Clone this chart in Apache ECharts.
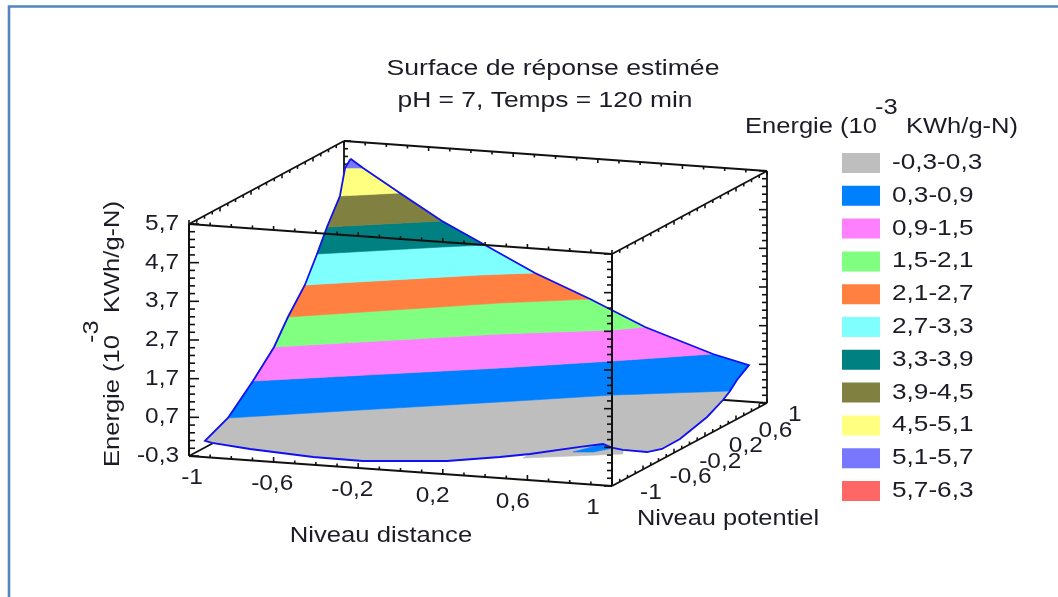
<!DOCTYPE html>
<html><head><meta charset="utf-8">
<style>html,body{margin:0;padding:0;background:#fff}#c{width:1058px;height:597px}</style>
<script src="https://cdn.jsdelivr.net/npm/echarts@6/dist/echarts.min.js"></script>
</head><body><div id="c"></div>
<script>
// ---- axis ticks and labels ----
const distanceTicks = [-1, -0.6, -0.2, 0.2, 0.6, 1];
const distanceLabels = ['-1', '-0,6', '-0,2', '0,2', '0,6', '1'];
const potentialTicks = [-1, -0.6, -0.2, 0.2, 0.6, 1];
const potentialLabels = ['-1', '-0,6', '-0,2', '0,2', '0,6', '1'];
const energyTicks = [-0.3, 0.7, 1.7, 2.7, 3.7, 4.7, 5.7];
const energyLabels = ['-0,3', '0,7', '1,7', '2,7', '3,7', '4,7', '5,7'];

// ---- legend ----
const bandNames = ['-0,3-0,3', '0,3-0,9', '0,9-1,5', '1,5-2,1', '2,1-2,7', '2,7-3,3', '3,3-3,9', '3,9-4,5', '4,5-5,1', '5,1-5,7', '5,7-6,3'];
const bandColors = ['#BEBEBE', '#0080FF', '#FF80FF', '#80FF80', '#FF8040', '#80FFFF', '#008080', '#808040', '#FFFF80', '#7878FF', '#FF6666'];

// ---- iso-energy lines of the surface: [distance, potential] at each energy level ----
const contour03 = [[-0.953, -0.626], [-0.464, -0.257], [0.058, 0.125], [0.476, 0.444], [0.933, 0.706]];
const contour09 = [[-0.956, -0.295], [-0.026, 0.354], [0.391, 0.674], [0.754, 0.974]];
const contour15 = [[-0.952, -0.033], [-0.110, 0.584], [0.331, 0.840], [0.441, 0.952]];
const contour21 = [[-0.947, 0.132], [-0.171, 0.750], [0.174, 0.971]];
const contour27 = [[-0.945, 0.345], [-0.292, 0.822], [-0.078, 0.948]];
const contour33 = [[-0.955, 0.529], [-0.484, 0.869], [-0.324, 0.974]];
const contour39 = [[-0.943, 0.625], [-0.510, 0.927]];
const contour45 = [[-0.950, 0.811], [-0.723, 0.965]];
const contour51 = [[-0.966, 0.921], [-0.891, 0.948]];
// surface border: [distance, potential, energy]
const peakPoint = [-0.969, 1, 5.25];
const farCorner = [0.922, 0.98, 0.67];
const farEdge = [0.936, 0.787, 0.5];
const leftFoot = [[-1, -0.794, -0.13], [-1, -0.703, -0.28]];
// where the surface meets the floor, energy -0,3: [distance, potential]
const floorEdge = [[0.793, 0.997], [0.859, 0.612], [0.917, 0.103], [0.920, -0.137], [0.881, -0.224], [0.765, -0.217], [0.708, -0.190], [0.635, -0.120], [0.562, -0.218], [0.408, -0.443], [0.306, -0.552], [0.116, -0.717], [-0.235, -0.844], [-0.474, -0.834], [-0.800, -0.759]];
// parts of the underside seen below the border
const undersideGrey = [[0.410, -0.539], [0.796, -0.302], [0.765, -0.217], [0.708, -0.190], [0.635, -0.120], [0.562, -0.218], [0.408, -0.443]];
const undersideBlue = [[0.572, -0.335], [0.635, -0.120], [0.708, -0.190], [0.656, -0.305]];

// ---- view: how the 3D box sits on the hidden plane axes ----
const view = { ox: 189, oy: 456, xdx: 423, xdy: 30, pdx: 155, pdy: -83, ez: 38.67 };
const eMin = -0.3, eMax = 5.7;
function project(d, p, e) {
  const tx = (d + 1) / 2, tp = (p + 1) / 2;
  return [view.ox + view.xdx * tx + view.pdx * tp, view.oy + view.xdy * tx + view.pdy * tp - (e - eMin) * view.ez];
}
const at = (pts, e) => pts.map(q => [q[0], q[1], e]);
const rev = a => a.slice().reverse();
const L = [at(contour03, .3), at(contour09, .9), at(contour15, 1.5), at(contour21, 2.1), at(contour27, 2.7), at(contour33, 3.3), at(contour39, 3.9), at(contour45, 4.5), at(contour51, 5.1)];
const floor3d = at(floorEdge, eMin);
const bandPolys = [
  [...L[0], ...floor3d, ...rev(leftFoot)],
  [...L[1], farCorner, farEdge, ...rev(L[0])],
  [...L[2], ...rev(L[1])], [...L[3], ...rev(L[2])], [...L[4], ...rev(L[3])],
  [...L[5], ...rev(L[4])], [...L[6], ...rev(L[5])], [...L[7], ...rev(L[6])],
  [...L[8], ...rev(L[7])], [...L[8], peakPoint], []
];
const outline = [peakPoint, ...L.slice(1).map(l => l[l.length - 1]).reverse(), farCorner, farEdge, L[0][L[0].length - 1], ...floor3d, ...rev(leftFoot), ...L.map(l => l[0]), peakPoint];

const font = 'Liberation Sans, Arial, sans-serif';
const ink = '#1c1c28';
function txt(x, y, text, size, sx, align, rot) {
  return { type: 'text', x, y, scaleX: sx, rotation: rot || 0, silent: true,
    style: { text, fontFamily: font, fontSize: size, fill: ink, align: align || 'center', verticalAlign: 'middle' } };
}
const FS = 22, SX = 1.11;

// ---- box ----
function edge(a, b, lw) { return { type: 'line', shape: { x1: a[0], y1: a[1], x2: b[0], y2: b[1] }, style: { stroke: '#111', lineWidth: lw }, silent: true }; }
function tickRun(fn, from, to, step, major, dx, dy, lenMajor, lenMinor, out) {
  const n = Math.round((to - from) / step);
  for (let i = 0; i <= n; i++) {
    const v = from + i * step, q = fn(v);
    const big = major.some(m => Math.abs(m - v) < 1e-6);
    const len = big ? lenMajor : lenMinor;
    out.push(edge(q, [q[0] + dx * len, q[1] + dy * len], 1.6));
  }
}
function boxBack(conv) {
  const out = [];
  const c = (d, p, e) => conv(project(d, p, e));
  const E = (a, b) => edge(a, b, 1.8);
  out.push(E(c(-1, 1, eMin), c(-1, 1, eMax)), E(c(1, 1, eMin), c(1, 1, eMax)), E(c(-1, 1, eMin), c(1, 1, eMin)),
    E(c(-1, -1, eMin), c(-1, 1, eMin)), E(c(-1, 1, eMax), c(1, 1, eMax)), E(c(-1, -1, eMax), c(-1, 1, eMax)), E(c(1, -1, eMax), c(1, 1, eMax)), E(c(1, -1, eMin), c(1, 1, eMin)));
  tickRun(e => c(-1, 1, e), eMin, eMax, 0.2, energyTicks, 1, 0, 7, 4, out);
  tickRun(e => c(1, 1, e), eMin, eMax, 0.2, energyTicks, -1, 0, 8, 5, out);
  tickRun(d => c(d, 1, eMax), -1, 1, 0.1, distanceTicks, 0, 1, 4, 3, out);
  tickRun(p => c(-1, p, eMax), -1, 1, 0.1, potentialTicks, 0, 1, 4, 3, out);
  tickRun(p => c(1, p, eMax), -1, 1, 0.1, potentialTicks, 0, 1, 4, 3, out);
  tickRun(p => c(1, p, eMin), -1, 1, 0.1, potentialTicks, 0, -1, 4, 3, out);
  return out;
}
function boxFront(conv) {
  const out = [];
  const c = (d, p, e) => conv(project(d, p, e));
  const E = (a, b) => edge(a, b, 2);
  out.push(E(c(-1, -1, eMin), c(-1, -1, eMax)), E(c(1, -1, eMin), c(1, -1, eMax)), E(c(-1, -1, eMin), c(1, -1, eMin)), E(c(-1, -1, eMax), c(1, -1, eMax)));
  tickRun(e => c(-1, -1, e), eMin, eMax, 0.2, energyTicks, 1, 0, 10, 6, out);
  tickRun(e => c(1, -1, e), eMin, eMax, 0.2, energyTicks, -1, 0, 8, 5, out);
  tickRun(d => c(d, -1, eMin), -1, 1, 0.1, distanceTicks, 0, -1, 5, 3, out);
  tickRun(d => c(d, -1, eMax), -1, 1, 0.1, distanceTicks, 0, -1, 4, 3, out);
  return out;
}
function polyItem(pts, conv, color) {
  return { type: 'polygon', silent: true, shape: { points: pts.map(q => conv(project(q[0], q[1], q[2]))) },
    style: { fill: color, stroke: color, lineWidth: 0.6 } };
}
const oneRow = [[0, 0]];
function custom(name, z, draw, data) {
  return { type: 'custom', name, z, clip: false, silent: true, animation: false, coordinateSystem: 'cartesian2d', data: data || oneRow,
    renderItem: (params, api) => draw(v => api.coord(v), params, api) };
}

const series = [
  custom('boite arriere', 1, conv => ({ type: 'group', children: boxBack(conv) })),
  custom('dessous', 2, conv => ({ type: 'group', children: [polyItem(at(undersideGrey, eMin), conv, bandColors[0]), polyItem(at(undersideBlue, eMin), conv, bandColors[1])] }))
];
bandNames.forEach((name, i) => {
  series.push(custom(name, 3, conv => bandPolys[i].length ? polyItem(bandPolys[i], conv, bandColors[i]) : null));
});
series.push(custom('contour', 4, conv => ({ type: 'polyline', silent: true, shape: { points: outline.map(q => conv(project(q[0], q[1], q[2]))) }, style: { fill: null, stroke: '#1010F0', lineWidth: 1.8 } })));
series.push(custom('boite avant', 5, conv => ({ type: 'group', children: boxFront(conv) })));
// tick labels
series.push(custom('etiquettes', 6, conv => {
  const ch = [];
  distanceTicks.forEach((d, i) => { const tx = (d + 1) / 2, q = conv(project(d, -1, eMin)); ch.push(txt(q[0] + 3 - 22 * tx, q[1] + 22, distanceLabels[i], FS, SX)); });
  potentialTicks.forEach((p, i) => { const tp = (p + 1) / 2, q = conv(project(1, p, eMin)); ch.push(txt(q[0] + 28 - 7 * tp, q[1] + 7 + 5 * tp, potentialLabels[i], FS, SX, 'left')); });
  energyTicks.forEach((e, i) => { const q = conv(project(-1, -1, e)); ch.push(txt(q[0] - 10, q[1], energyLabels[i], FS, SX, 'right')); });
  return { type: 'group', children: ch };
}));
// legend
series.push(custom('legende', 6, (conv, params) => {
  const i = params.dataIndex, p = conv([842, 153 + i * 32.8]);
  return { type: 'group', children: [
    { type: 'rect', silent: true, shape: { x: p[0], y: p[1], width: 38, height: 20 }, style: { fill: bandColors[i] } },
    txt(p[0] + 50, p[1] + 10, bandNames[i], FS, 1.19, 'left')
  ] };
}, bandNames.map((n, i) => [0, i])));

const option = {
  animation: false,
  backgroundColor: '#fff',
  grid: { left: 0, right: 0, top: 0, bottom: 0 },
  xAxis: { type: 'value', min: 0, max: 1058, show: false },
  yAxis: { type: 'value', min: 0, max: 597, inverse: true, show: false },
  series,
  graphic: [
    { type: 'polyline', silent: true, shape: { points: [[9, 597], [9, 6.5], [1058, 6.5]] }, style: { fill: null, stroke: '#5585C0', lineWidth: 2.6 } },
    txt(553, 69, 'Surface de réponse estimée', FS, 1.21),
    txt(545, 101, 'pH = 7, Temps = 120 min', FS, 1.2),
    txt(745, 127, 'Energie (10', FS, 1.16, 'left'),
    txt(875, 108, '-3', FS, 1.16, 'left'),
    txt(906, 127, 'KWh/g-N)', FS, 1.16, 'left'),
    txt(113, 467, 'Energie (10', FS, 1.16, 'left', Math.PI / 2),
    txt(92, 343, '-3', FS, 1.16, 'left', Math.PI / 2),
    txt(113, 313, 'KWh/g-N)', FS, 1.16, 'left', Math.PI / 2),
    txt(381, 536, 'Niveau distance', FS, 1.165),
    txt(728, 519, 'Niveau potentiel', FS, 1.155)
  ]
};
echarts.init(document.getElementById('c'), null, { renderer: 'canvas' }).setOption(option);
</script></body></html>
